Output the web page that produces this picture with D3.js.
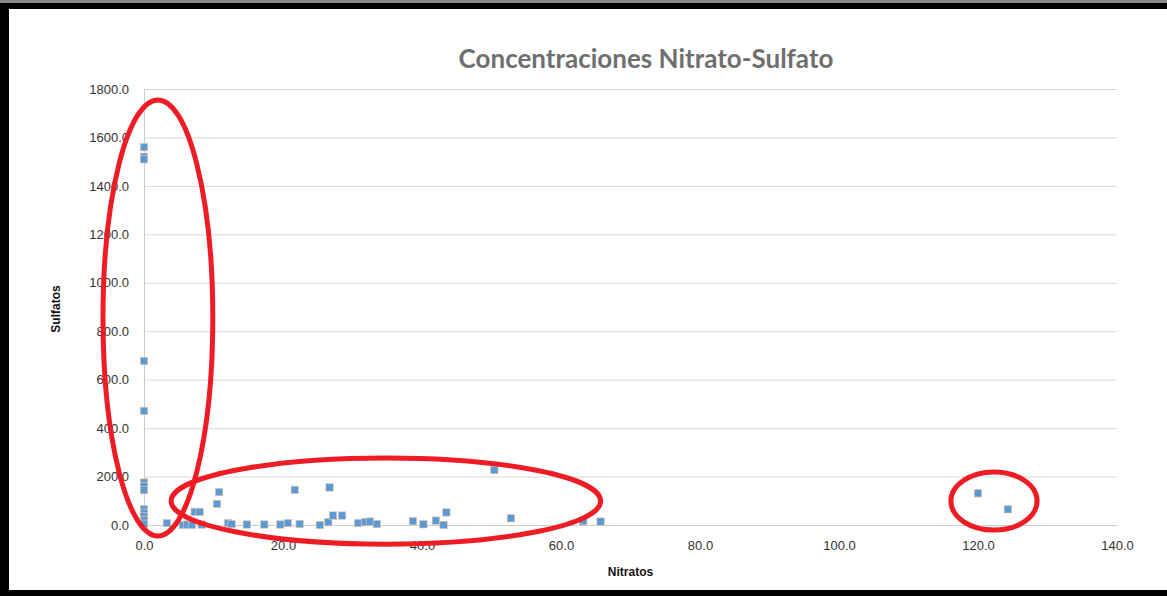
<!DOCTYPE html>
<html>
<head>
<meta charset="utf-8">
<script src="https://cdn.jsdelivr.net/npm/d3@7"></script>
<style>
  html, body { margin: 0; padding: 0; background: #fff; }
  svg { display: block; }
  text { font-family: "Open Sans", "Liberation Sans", sans-serif; }
</style>
</head>
<body>
<svg id="chart" width="1167" height="596"></svg>
<script>
// Nitrate (x) and sulfate (y) concentrations per sample
const nitratos = [
  0, 0, 0, 0, 0, 0, 0, 0, 0, 0, 0, 0, 0,
  3.3, 5.6, 6.2, 6.9, 7.3, 8.0, 8.3, 10.5, 10.8, 12.1, 12.6, 14.8, 17.3,
  19.6, 20.7, 21.7, 22.4, 25.3, 26.5, 26.7, 27.2, 28.5, 30.8, 31.8, 32.5,
  33.5, 38.7, 40.2, 42.0, 43.1, 43.5, 50.4, 52.8, 63.2, 65.7, 120.0, 124.3
];
const sulfatos = [
  1560, 1520, 1510, 677, 471, 175, 160, 144, 65, 50, 35, 20, 5,
  8, 0, 2, 0, 54, 54, 2, 87, 136, 8, 4, 2, 2,
  2, 8, 145, 4, 0, 12, 155, 39, 39, 8, 12, 14,
  4, 16, 3, 18, 0, 52, 227, 28, 16, 14, 131, 65
];

// Axis ticks
const xTicks = [0, 20, 40, 60, 80, 100, 120, 140];
const yTicks = [0, 200, 400, 600, 800, 1000, 1200, 1400, 1600, 1800];

// Highlight ellipses, in data units (nitrate, sulfate)
const grupoCx = [2.0, 34.8, 122.3];
const grupoCy = [855, 99, 99];
const grupoRx = [7.9, 30.9, 6.2];
const grupoRy = [900, 178, 120];

const W = 1167, H = 596;
const plot = { left: 144, right: 1117, top: 89, bottom: 525 };

const svg = d3.select("#chart");

const x = d3.scaleLinear().domain([0, 140]).range([plot.left, plot.right]);
const y = d3.scaleLinear().domain([0, 1800]).range([plot.bottom, plot.top]);
const fmt = d3.format(".1f");

// Horizontal gridlines
svg.append("g")
  .attr("transform", `translate(${plot.left},0)`)
  .call(d3.axisLeft(y).tickValues(yTicks).tickSize(-(plot.right - plot.left)).tickFormat(""))
  .call(g => g.select(".domain").remove())
  .call(g => g.selectAll("line").attr("stroke", "#d9d9d9").attr("stroke-width", 1));

// Y axis line and labels
const yAxis = svg.append("g")
  .attr("transform", `translate(${plot.left},0)`)
  .call(d3.axisLeft(y).tickValues(yTicks).tickSize(0).tickPadding(15).tickFormat(fmt));
yAxis.select(".domain").attr("stroke", "#cccccc");
yAxis.selectAll("text")
  .attr("font-size", 13).attr("fill", "#333")
  .style("font-family", "'Liberation Sans', sans-serif");

// X axis line and labels
const xAxis = svg.append("g")
  .attr("transform", `translate(0,${plot.bottom})`)
  .call(d3.axisBottom(x).tickValues(xTicks).tickSize(0).tickPadding(16).tickFormat(fmt));
xAxis.select(".domain").attr("stroke", "#cccccc");
xAxis.selectAll("text")
  .attr("font-size", 13).attr("fill", "#333")
  .style("font-family", "'Liberation Sans', sans-serif");

// Title
svg.append("text")
  .attr("x", 646).attr("y", 68)
  .attr("text-anchor", "middle")
  .attr("font-size", 26).attr("font-weight", 700)
  .attr("fill", "#6f6f6f")
  .style("font-family", "Lato, 'Open Sans', sans-serif")
  .text("Concentraciones Nitrato-Sulfato");

// Axis titles
svg.append("text")
  .attr("transform", `translate(60,${(plot.top + plot.bottom) / 2 + 2}) rotate(-90)`)
  .attr("text-anchor", "middle")
  .attr("font-size", 12).attr("font-weight", 700).attr("fill", "#111")
  .style("font-family", "'Liberation Sans', sans-serif")
  .text("Sulfatos");

svg.append("text")
  .attr("x", (plot.left + plot.right) / 2).attr("y", 576)
  .attr("text-anchor", "middle")
  .attr("font-size", 12).attr("font-weight", 700).attr("fill", "#111")
  .style("font-family", "'Liberation Sans', sans-serif")
  .text("Nitratos");

// Data markers
const pts = nitratos.map((n, i) => ({ n, s: sulfatos[i] }));
const ms = 7.5;
svg.append("g").selectAll("rect")
  .data(pts)
  .join("rect")
  .attr("x", d => x(d.n) - ms / 2)
  .attr("y", d => y(d.s) - ms / 2)
  .attr("width", ms).attr("height", ms)
  .attr("fill", "#5b9bd5")
  .attr("stroke", "#f4c9a6").attr("stroke-width", 0.6);

// Red highlight ellipses
const grupos = grupoCx.map((cx, i) => ({ cx, cy: grupoCy[i], rx: grupoRx[i], ry: grupoRy[i] }));
svg.append("g").selectAll("ellipse")
  .data(grupos)
  .join("ellipse")
  .attr("cx", d => x(d.cx))
  .attr("cy", d => y(d.cy))
  .attr("rx", d => x(d.rx) - x(0))
  .attr("ry", d => y(0) - y(d.ry))
  .attr("fill", "none")
  .attr("stroke", "#ee1c25")
  .attr("stroke-width", 5);

// Dark frame around the figure
svg.append("rect").attr("x", 0).attr("y", 3).attr("width", W).attr("height", 6).attr("fill", "#000");
svg.append("rect").attr("x", 0).attr("y", 3).attr("width", 9).attr("height", H - 3).attr("fill", "#000");
svg.append("rect").attr("x", 0).attr("y", 590).attr("width", W).attr("height", 6).attr("fill", "#000");
svg.append("rect").attr("x", 0).attr("y", 0).attr("width", W).attr("height", 3).attr("fill", "#8a8a8a");
</script>
</body>
</html>
